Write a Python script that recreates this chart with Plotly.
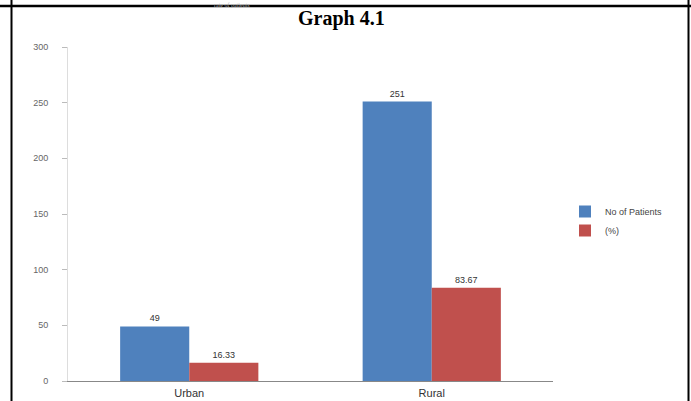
import plotly.graph_objects as go

categories = ["Urban", "Rural"]
patients = [49, 251]
percent = [16.33, 83.67]
patient_labels = ["49", "251"]
percent_labels = ["16.33", "83.67"]
y_ticks = [0, 50, 100, 150, 200, 250, 300]

W, H = 691, 401
L, R, T, B = 68, 553, 47, 381

def px(x):
    return (x - L) / (R - L)

def py(y):
    return (B - y) / (B - T)

fig = go.Figure()
fig.add_trace(go.Bar(x=categories, y=patients, name="No of Patients",
                     marker=dict(color="#4F81BD", line=dict(width=0)),
                     text=patient_labels, textposition="outside",
                     textfont=dict(size=9, color="#333333", family="Liberation Sans"),
                     cliponaxis=False))
fig.add_trace(go.Bar(x=categories, y=percent, name="(%)",
                     marker=dict(color="#C0504D", line=dict(width=0)),
                     text=percent_labels, textposition="outside",
                     textfont=dict(size=9, color="#333333", family="Liberation Sans"),
                     cliponaxis=False))

fig.update_layout(
    width=W, height=H,
    margin=dict(l=L, r=W - R, t=T, b=H - B, autoexpand=False),
    paper_bgcolor="white", plot_bgcolor="white",
    barmode="group", bargap=0.43, bargroupgap=0,
    showlegend=True,
    legend=dict(x=px(565), y=py(221), xanchor="left", yanchor="middle",
                font=dict(size=9, color="#444444", family="Liberation Sans"),
                bgcolor="rgba(0,0,0,0)", itemwidth=30, tracegroupgap=2),
    font=dict(family="Liberation Sans"),
)
fig.update_xaxes(showline=True, linecolor="#888888", linewidth=1, showgrid=False,
                 ticks="", tickfont=dict(size=11, color="#333333"), ticklabelstandoff=2)
fig.update_yaxes(range=[0, 300], tickvals=y_ticks, showgrid=False,
                 showline=True, linecolor="#dddddd", linewidth=1,
                 ticks="outside", ticklen=5, tickcolor="#bbbbbb",
                 ticklabelstandoff=12,
                 tickfont=dict(size=9, color="#666666"), zeroline=False)

# Title
fig.add_annotation(text="<b>Graph 4.1</b>", x=px(341), y=py(18), xref="paper", yref="paper",
                   showarrow=False, xanchor="center", yanchor="middle",
                   font=dict(family="Liberation Serif", size=20, color="black"))
# faint text at very top
fig.add_annotation(text="rate of patients", x=px(232), y=py(0), xref="paper", yref="paper",
                   showarrow=False, xanchor="center", yanchor="top",
                   font=dict(family="Liberation Serif", size=6, color="#aaaaaa"))

# page borders
fig.add_shape(type="line", xref="paper", yref="paper", x0=px(0), x1=px(691), y0=py(6), y1=py(6),
              line=dict(color="black", width=2.5))
fig.add_shape(type="line", xref="paper", yref="paper", x0=px(11.5), x1=px(11.5), y0=py(0), y1=py(401),
              line=dict(color="black", width=2))
fig.add_shape(type="line", xref="paper", yref="paper", x0=px(688.5), x1=px(688.5), y0=py(0), y1=py(401),
              line=dict(color="black", width=2))

fig.write_html("out.html")
